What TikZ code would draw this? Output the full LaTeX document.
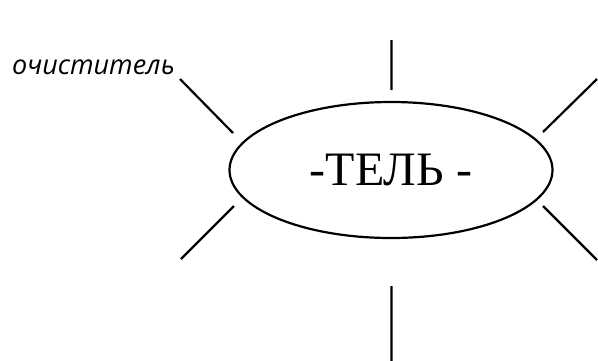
\documentclass[tikz,border=0pt]{standalone}
\usepackage{fontspec}
\setmainfont{Liberation Serif}
\newfontfamily\labelfont{Open Sans}
\usetikzlibrary{shapes.geometric}
\tikzset{
    ray/.style={line width=2.2pt},
    root/.style={ellipse, draw, line width=2.2pt, minimum width=323pt,
                 minimum height=136pt, inner sep=0pt, font=\fontsize{48}{50}\selectfont},
    word/.style={font=\labelfont\itshape\fontsize{27}{29}\selectfont, inner sep=0pt}
}
\begin{document}
\begin{tikzpicture}[x=1pt, y=-1pt]
        \useasboundingbox (0, 0) rectangle (598, 360);
        \node[root] (suffix) at (391, 170) {-ТЕЛЬ -};
        \node[word, anchor=base east] (cleaner) at (175, 74) {очиститель};
        \coordinate (n1) at (391.5, 40);   \coordinate (n2) at (391.5, 90);
        \coordinate (s1) at (391.5, 286);  \coordinate (s2) at (391.5, 362);
        \coordinate (nw1) at (180, 79);    \coordinate (nw2) at (233, 133);
        \coordinate (ne1) at (597, 79);    \coordinate (ne2) at (543, 132);
        \coordinate (sw1) at (181, 259);   \coordinate (sw2) at (234, 206);
        \coordinate (se1) at (597, 260);   \coordinate (se2) at (543, 206);
        \draw[ray] (n1) -- (n2)
                   (s1) -- (s2)
                   (nw1) -- (nw2)
                   (ne1) -- (ne2)
                   (sw1) -- (sw2)
                   (se1) -- (se2);
    \end{tikzpicture}
\end{document}
